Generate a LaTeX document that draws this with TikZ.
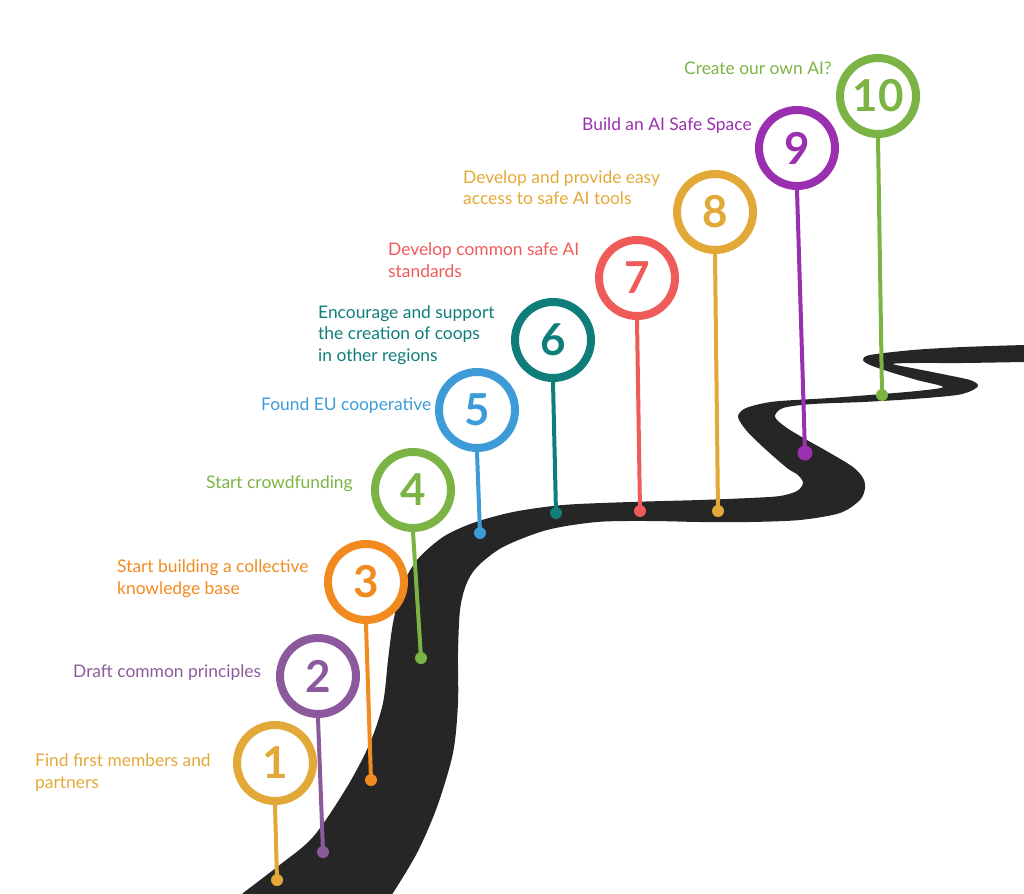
\documentclass[tikz,border=0pt]{standalone}
\usepackage{fontspec}
\setmainfont{Lato}
\definecolor{cgold}{HTML}{E3A938}
\definecolor{cpurple}{HTML}{8C5A9C}
\definecolor{corange}{HTML}{F28B1F}
\definecolor{cgreen}{HTML}{7BB444}
\definecolor{cblue}{HTML}{3D9CD8}
\definecolor{cteal}{HTML}{0F7E7B}
\definecolor{cred}{HTML}{EE5B58}
\definecolor{cviolet}{HTML}{9A2FAF}
\definecolor{roadcol}{HTML}{262626}
\begin{document}
\begin{tikzpicture}[x=1pt,y=-1pt,
  pinring/.style={circle, draw=#1, fill=white, line width=8pt, minimum size=76pt, inner sep=0pt, text=#1, font=\fontsize{44}{44}\selectfont\bfseries},
  stemline/.style={line width=4pt, draw=#1},
  pindot/.style={circle, fill=#1, minimum size=12pt, inner sep=0pt},
  steplabel/.style={anchor=base west, align=left, inner sep=0pt, text=#1, font=\fontsize{17.4}{21.5}\selectfont}]
\useasboundingbox (0,0) rectangle (1024,893);
\clip (0,0) rectangle (1024,893);
% road
\fill[roadcol] plot[smooth, tension=0.5] coordinates {
 (243,893) (277,867) (313,837) (347,787) (370,743) (383,703) (388,660) (393,623)
 (402,587) (417,560) (443,537) (473,523) (513,512) (563,505) (630,502) (700,500)
 (750,498) (780,496) (797,491) (803,483) (798,475) (787,468) (763,447) (746,430)
 (738,417) (744,409) (760,404) (780,401) (830,398) (882,394) (917,391) (943,387)
 (917,380) (890,372) (870,365) (863,360) (870,355) (913,350) (963,347) (1024,345)}
 -- (1040,345) -- (1040,362) --
 plot[smooth, tension=0.5] coordinates {
 (1024,362) (963,363) (917,363) (893,364) (917,369) (947,375) (970,380) (978,385)
 (973,390) (957,395) (913,399) (863,402) (813,404) (783,408) (775,417) (787,428)
 (807,440) (830,453) (853,467) (863,478) (865,488) (860,500) (840,513) (800,520)
 (750,522) (700,522) (650,521) (597,522) (547,530) (503,547) (477,567) (466,585)
 (460,610) (458,653) (458,703) (453,753) (437,807) (417,853) (393,893)}
 -- (385,905) -- (235,905) -- cycle;
% pins
\node[pindot=cgold]   (d1)  at (277,880) {};
\node[pindot=cpurple] (d2)  at (323,852) {};
\node[pindot=corange] (d3)  at (371,780) {};
\node[pindot=cgreen]  (d4)  at (421,658) {};
\node[pindot=cblue]   (d5)  at (480,533) {};
\node[pindot=cteal]   (d6)  at (556,513) {};
\node[pindot=cred]    (d7)  at (640,511) {};
\node[pindot=cgold]   (d8)  at (718,511) {};
\node[pindot=cviolet, minimum size=15pt] (d9) at (805,453) {};
\node[pindot=cgreen]  (d10) at (882,395) {};
\node[pinring=cgold]   (c1)  at (275,763) {1};
\node[pinring=cpurple] (c2)  at (318,676) {2};
\node[pinring=corange] (c3)  at (366,582) {3};
\node[pinring=cgreen]  (c4)  at (413,490) {4};
\node[pinring=cblue]   (c5)  at (477,410) {5};
\node[pinring=cteal]   (c6)  at (553,340) {6};
\node[pinring=cred]    (c7)  at (637,278) {7};
\node[pinring=cgold]   (c8)  at (715,212) {8};
\node[pinring=cviolet] (c9)  at (797,148) {9};
\node[pinring=cgreen]  (c10) at (878,96)  {10};
\draw[stemline=cgold]   (c1.south)  -- (d1.center);
\draw[stemline=cpurple] (c2.south)  -- (d2.center);
\draw[stemline=corange] (c3.south)  -- (d3.center);
\draw[stemline=cgreen]  (c4.south)  -- (d4.center);
\draw[stemline=cblue]   (c5.south)  -- (d5.center);
\draw[stemline=cteal]   (c6.south)  -- (d6.center);
\draw[stemline=cred]    (c7.south)  -- (d7.center);
\draw[stemline=cgold]   (c8.south)  -- (d8.center);
\draw[stemline=cviolet] (c9.south)  -- (d9.center);
\draw[stemline=cgreen]  (c10.south) -- (d10.center);
% labels (base anchor = baseline of the last line)
\node[steplabel=cgold]   (t1)  at (35,788)  {Find first members and\\partners};
\node[steplabel=cpurple] (t2)  at (73,677)  {Draft common principles};
\node[steplabel=corange] (t3)  at (117,594) {Start building a collective\\knowledge base};
\node[steplabel=cgreen]  (t4)  at (206,488) {Start crowdfunding};
\node[steplabel=cblue]   (t5)  at (261,410) {Found EU cooperative};
\node[steplabel=cteal]   (t6)  at (318,361) {Encourage and support\\the creation of coops\\in other regions};
\node[steplabel=cred]    (t7)  at (388,277) {Develop common safe AI\\standards};
\node[steplabel=cgold]   (t8)  at (463,205) {Develop and provide easy\\access to safe AI tools};
\node[steplabel=cviolet] (t9)  at (582,131) {Build an AI Safe Space};
\node[steplabel=cgreen]  (t10) at (684,75)  {Create our own AI?};
\end{tikzpicture}
\end{document}
